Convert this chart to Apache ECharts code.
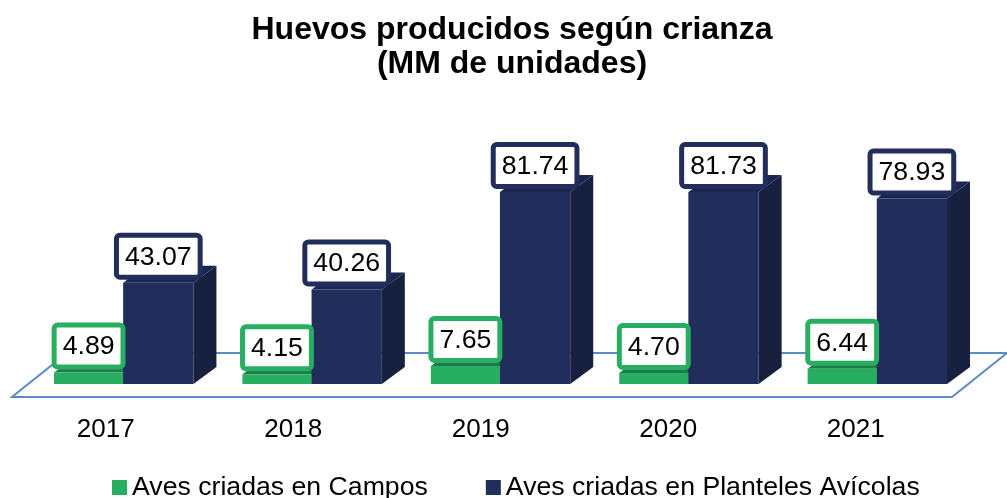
<!DOCTYPE html>
<html>
<head>
<meta charset="utf-8">
<title>Huevos producidos según crianza</title>
<script src="https://cdn.jsdelivr.net/npm/echarts@6/dist/echarts.min.js"></script>
<style>
  html, body { margin: 0; padding: 0; background: #fff; }
  #main { width: 1007px; height: 498px; }
</style>
</head>
<body>
<div id="main"></div>
<script>
const YEARS = ["2017", "2018", "2019", "2020", "2021"];
const CAMPOS = [4.89, 4.15, 7.65, 4.70, 6.44];
const PLANTELES = [43.07, 40.26, 81.74, 81.73, 78.93];
const CAMPOS_NAME = "Aves criadas en Campos";
const PLANTELES_NAME = "Aves criadas en Planteles Avícolas";

const FONT = '"Liberation Sans", Arial, sans-serif';
const DEPTH_X = 23;
const DEPTH_Y = 17;

function poly(points, fill) {
  return { type: "polygon", shape: { points: points }, style: { fill: fill } };
}

// one 3D bar: side and top faces behind the front one, value box on top
function bar3d(colors, from, to) {
  return function (params, api) {
    const band = api.size([1, 0])[0];
    const cx = api.coord([api.value(0), 0])[0];
    const y0 = api.coord([0, 0])[1];
    const y1 = api.coord([0, api.value(1)])[1];
    const x0 = cx + from * band;
    const x1 = cx + to * band;
    const value = api.value(1).toFixed(2);
    return {
      type: "group",
      children: [
        poly([[x1, y0], [x1 + DEPTH_X, y0 - DEPTH_Y], [x1 + DEPTH_X, y1 - DEPTH_Y], [x1, y1]], colors.side),
        poly([[x0, y1], [x0 + DEPTH_X, y1 - DEPTH_Y], [x1 + DEPTH_X, y1 - DEPTH_Y], [x1, y1]], colors.top),
        { type: "rect", shape: { x: x0, y: y1, width: x1 - x0, height: y0 - y1 }, style: { fill: colors.front } },
        {
          type: "text",
          z2: 10,
          style: {
            text: value,
            x: (x0 + x1) / 2,
            y: y1 - 8,
            align: "center",
            verticalAlign: "bottom",
            fill: "#000",
            font: "26.67px " + FONT,
            backgroundColor: "#fff",
            borderColor: colors.front,
            borderWidth: 5,
            borderRadius: 1,
            padding: [6, 6, 4, 6]
          }
        }
      ]
    };
  };
}

const chart = echarts.init(document.getElementById("main"));

chart.setOption({
  animation: false,
  title: {
    text: "Huevos producidos según crianza\n(MM de unidades)",
    left: 507,
    top: 8,
    textAlign: "center",
    textStyle: { fontFamily: FONT, fontSize: 32, fontWeight: "bold", color: "#000", lineHeight: 34 }
  },
  legend: {
    data: [CAMPOS_NAME, PLANTELES_NAME],
    left: 107,
    top: 469,
    icon: "rect",
    itemWidth: 15,
    itemHeight: 15,
    itemGap: 58,
    textStyle: { fontFamily: FONT, fontSize: 26.67, color: "#000" }
  },
  // the year labels sit on a slightly narrower band than the bars
  grid: [
    { left: 12, width: 942, top: 149, height: 235 },
    { left: 12, width: 937.5, top: 149, height: 235 }
  ],
  xAxis: [
    { type: "category", gridIndex: 0, data: YEARS, show: false },
    {
      type: "category",
      gridIndex: 1,
      data: YEARS,
      axisLine: { show: false },
      axisTick: { show: false },
      axisLabel: { fontFamily: FONT, fontSize: 26, color: "#000", margin: 33 }
    }
  ],
  yAxis: [
    { type: "value", gridIndex: 0, min: 0, max: 100, show: false, splitLine: { show: false } },
    { type: "value", gridIndex: 1, min: 0, max: 100, show: false, splitLine: { show: false } }
  ],
  series: [
    {
      // floor plane under the bars
      type: "custom",
      name: "floor",
      silent: true,
      data: [[0, 0]],
      encode: { x: 0, y: 1 },
      renderItem: function (params, api) {
        const c = params.coordSys;
        const y0 = api.coord([0, 0])[1];
        const front = y0 + 13;
        const back = y0 - 31;
        return {
          type: "polygon",
          shape: { points: [[c.x, front], [c.x + c.width - 2, front], [c.x + c.width + 53, back], [c.x + 55, back]] },
          style: { fill: "#fff", stroke: "#5b8ac6", lineWidth: 2 }
        };
      }
    },
    {
      type: "custom",
      name: CAMPOS_NAME,
      itemStyle: { color: "#27ae60" },
      data: CAMPOS.map((v, i) => [i, v]),
      encode: { x: 0, y: 1 },
      renderItem: bar3d({ front: "#27ae60", top: "#217a4a", side: "#217a4a" }, -0.277, 0.09)
    },
    {
      type: "custom",
      name: PLANTELES_NAME,
      itemStyle: { color: "#212d5b" },
      data: PLANTELES.map((v, i) => [i, v]),
      encode: { x: 0, y: 1 },
      renderItem: bar3d({ front: "#212d5b", top: "#1b2550", side: "#182040" }, 0.09, 0.463)
    }
  ]
});
</script>
</body>
</html>
